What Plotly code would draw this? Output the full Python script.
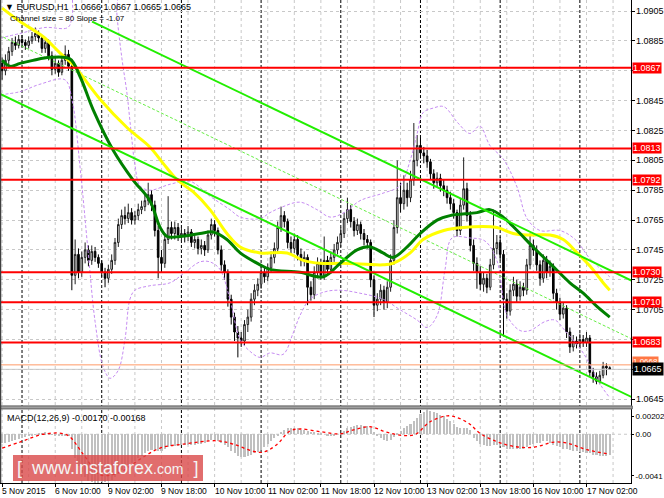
import plotly.graph_objects as go

# EURUSD H1, bars from 5 Nov 2015 18:00 to 17 Nov 2015 09:00 (x = bar number)
opens = [
    1.0870, 1.0865, 1.0872, 1.0878, 1.0884, 1.0882,
    1.0886, 1.0884, 1.0882, 1.0885, 1.0888, 1.0890, 1.0887, 1.0880, 1.0884, 1.0875, 1.0866, 1.0870,
    1.0864, 1.0872, 1.0876, 1.0868, 1.0728, 1.0742, 1.0730, 1.0740, 1.0745, 1.0738, 1.0744, 1.0740,
    1.0736, 1.0730, 1.0726, 1.0732, 1.0738, 1.0750, 1.0762, 1.0768, 1.0766, 1.0770, 1.0765, 1.0768,
    1.0772, 1.0774, 1.0778, 1.0782, 1.0775, 1.0758, 1.0740, 1.0736, 1.0752, 1.0760, 1.0756, 1.0760,
    1.0755, 1.0756, 1.0754, 1.0757, 1.0750, 1.0752, 1.0746, 1.0748, 1.0745, 1.0755, 1.0762, 1.0758,
    1.0745, 1.0735, 1.0730, 1.0712, 1.0700, 1.0690, 1.0686, 1.0684, 1.0695, 1.0700, 1.0712, 1.0718,
    1.0722, 1.0730, 1.0727, 1.0733, 1.0740, 1.0746, 1.0760, 1.0768, 1.0764, 1.0750, 1.0746, 1.0752,
    1.0742, 1.0738, 1.0740, 1.0720, 1.0715, 1.0730, 1.0736, 1.0728, 1.0738, 1.0732, 1.0740, 1.0745,
    1.0750, 1.0756, 1.0766, 1.0772, 1.0764, 1.0758, 1.0762, 1.0756, 1.0752, 1.0750, 1.0725, 1.0708,
    1.0712, 1.0718, 1.0710, 1.0720, 1.0738, 1.0760, 1.0780, 1.0776, 1.0785, 1.0780, 1.0792, 1.0805,
    1.0815, 1.0810, 1.0808, 1.0804, 1.0796, 1.0790, 1.0793, 1.0788, 1.0785, 1.0780, 1.0776, 1.0770,
    1.0758, 1.0775, 1.0786, 1.0768, 1.0748, 1.0736, 1.0730, 1.0722, 1.0726, 1.0720, 1.0735, 1.0746,
    1.0750, 1.0742, 1.0712, 1.0704, 1.0718, 1.0722, 1.0714, 1.0720, 1.0718, 1.0735, 1.0748, 1.0745,
    1.0735, 1.0726, 1.0738, 1.0730, 1.0734, 1.0716, 1.0710, 1.0702, 1.0706, 1.0690, 1.0680, 1.0684,
    1.0682, 1.0685, 1.0683, 1.0686, 1.0663, 1.0660, 1.0657, 1.0661, 1.0667, 1.0666,
]
highs = [
    1.0874, 1.0876, 1.0881, 1.0887, 1.0888, 1.0889,
    1.0889, 1.0886, 1.0888, 1.0891, 1.0894, 1.0892, 1.0889, 1.0887, 1.0886, 1.0878, 1.0874, 1.0872,
    1.0876, 1.0882, 1.0879, 1.0873, 1.0752, 1.0746, 1.0744, 1.0750, 1.0748, 1.0748, 1.0747, 1.0742,
    1.0738, 1.0733, 1.0735, 1.0742, 1.0753, 1.0766, 1.0772, 1.0774, 1.0776, 1.0773, 1.0771, 1.0776,
    1.0778, 1.0783, 1.0790, 1.0785, 1.0778, 1.0761, 1.0745, 1.0756, 1.0781, 1.0764, 1.0764, 1.0763,
    1.0760, 1.0759, 1.0761, 1.0759, 1.0756, 1.0754, 1.0752, 1.0751, 1.0758, 1.0766, 1.0765, 1.0760,
    1.0748, 1.0738, 1.0732, 1.0715, 1.0703, 1.0694, 1.0690, 1.0698, 1.0705, 1.0716, 1.0722, 1.0726,
    1.0734, 1.0733, 1.0736, 1.0744, 1.0750, 1.0764, 1.0774, 1.0771, 1.0766, 1.0754, 1.0756, 1.0755,
    1.0746, 1.0744, 1.0742, 1.0724, 1.0734, 1.0740, 1.0739, 1.0754, 1.0741, 1.0744, 1.0749, 1.0754,
    1.0760, 1.0770, 1.0780, 1.0775, 1.0767, 1.0766, 1.0764, 1.0759, 1.0755, 1.0752, 1.0728, 1.0716,
    1.0722, 1.0721, 1.0724, 1.0742, 1.0765, 1.0805, 1.0790, 1.0795, 1.0790, 1.0798, 1.0830, 1.0822,
    1.0820, 1.0814, 1.0812, 1.0806, 1.0799, 1.0797, 1.0796, 1.0792, 1.0788, 1.0784, 1.0779, 1.0772,
    1.0779, 1.0807, 1.0790, 1.0771, 1.0752, 1.0740, 1.0734, 1.0730, 1.0729, 1.0739, 1.0772, 1.0755,
    1.0754, 1.0745, 1.0716, 1.0722, 1.0727, 1.0725, 1.0724, 1.0723, 1.0739, 1.0756, 1.0752, 1.0748,
    1.0738, 1.0742, 1.0741, 1.0738, 1.0736, 1.0719, 1.0713, 1.0710, 1.0708, 1.0693, 1.0688, 1.0687,
    1.0689, 1.0688, 1.0690, 1.0688, 1.0666, 1.0663, 1.0664, 1.0670, 1.0669, 1.0667,
]
lows = [
    1.0859, 1.0862, 1.0869, 1.0875, 1.0879, 1.0880,
    1.0881, 1.0879, 1.0880, 1.0883, 1.0885, 1.0884, 1.0877, 1.0877, 1.0872, 1.0862, 1.0863, 1.0861,
    1.0862, 1.0869, 1.0865, 1.0718, 1.0722, 1.0726, 1.0727, 1.0736, 1.0734, 1.0735, 1.0737, 1.0733,
    1.0727, 1.0720, 1.0723, 1.0729, 1.0735, 1.0747, 1.0759, 1.0762, 1.0763, 1.0762, 1.0762, 1.0765,
    1.0769, 1.0771, 1.0775, 1.0771, 1.0754, 1.0726, 1.0730, 1.0733, 1.0749, 1.0752, 1.0752, 1.0751,
    1.0751, 1.0750, 1.0751, 1.0747, 1.0746, 1.0742, 1.0742, 1.0741, 1.0743, 1.0752, 1.0754, 1.0742,
    1.0731, 1.0725, 1.0707, 1.0695, 1.0684, 1.0673, 1.0680, 1.0681, 1.0690, 1.0697, 1.0708, 1.0714,
    1.0719, 1.0723, 1.0724, 1.0730, 1.0736, 1.0743, 1.0757, 1.0760, 1.0746, 1.0742, 1.0743, 1.0738,
    1.0734, 1.0734, 1.0708, 1.0711, 1.0712, 1.0726, 1.0725, 1.0725, 1.0728, 1.0729, 1.0737, 1.0742,
    1.0747, 1.0753, 1.0763, 1.0760, 1.0754, 1.0755, 1.0752, 1.0748, 1.0746, 1.0720, 1.0700, 1.0704,
    1.0708, 1.0705, 1.0706, 1.0717, 1.0735, 1.0756, 1.0770, 1.0772, 1.0774, 1.0777, 1.0788, 1.0801,
    1.0806, 1.0803, 1.0800, 1.0792, 1.0786, 1.0787, 1.0784, 1.0781, 1.0776, 1.0772, 1.0766, 1.0754,
    1.0755, 1.0772, 1.0764, 1.0744, 1.0731, 1.0719, 1.0718, 1.0717, 1.0716, 1.0718, 1.0732, 1.0742,
    1.0738, 1.0687, 1.0699, 1.0701, 1.0714, 1.0710, 1.0711, 1.0714, 1.0715, 1.0732, 1.0741, 1.0731,
    1.0721, 1.0723, 1.0726, 1.0727, 1.0712, 1.0705, 1.0698, 1.0699, 1.0686, 1.0676, 1.0677, 1.0679,
    1.0679, 1.0680, 1.0680, 1.0660, 1.0656, 1.0655, 1.0655, 1.0659, 1.0661, 1.0665,
]
closes = [
    1.0865, 1.0872, 1.0878, 1.0884, 1.0882, 1.0886,
    1.0884, 1.0882, 1.0885, 1.0888, 1.0890, 1.0887, 1.0880, 1.0884, 1.0875, 1.0866, 1.0870, 1.0864,
    1.0872, 1.0876, 1.0868, 1.0728, 1.0742, 1.0730, 1.0740, 1.0745, 1.0738, 1.0744, 1.0740, 1.0736,
    1.0730, 1.0726, 1.0732, 1.0738, 1.0750, 1.0762, 1.0768, 1.0766, 1.0770, 1.0765, 1.0768, 1.0772,
    1.0774, 1.0778, 1.0782, 1.0775, 1.0758, 1.0740, 1.0736, 1.0752, 1.0760, 1.0756, 1.0760, 1.0755,
    1.0756, 1.0754, 1.0757, 1.0750, 1.0752, 1.0746, 1.0748, 1.0745, 1.0755, 1.0762, 1.0758, 1.0745,
    1.0735, 1.0730, 1.0712, 1.0700, 1.0690, 1.0686, 1.0684, 1.0695, 1.0700, 1.0712, 1.0718, 1.0722,
    1.0730, 1.0727, 1.0733, 1.0740, 1.0746, 1.0760, 1.0768, 1.0764, 1.0750, 1.0746, 1.0752, 1.0742,
    1.0738, 1.0740, 1.0720, 1.0715, 1.0730, 1.0736, 1.0728, 1.0738, 1.0732, 1.0740, 1.0745, 1.0750,
    1.0756, 1.0766, 1.0772, 1.0764, 1.0758, 1.0762, 1.0756, 1.0752, 1.0750, 1.0725, 1.0708, 1.0712,
    1.0718, 1.0710, 1.0720, 1.0738, 1.0760, 1.0780, 1.0776, 1.0785, 1.0780, 1.0792, 1.0805, 1.0815,
    1.0810, 1.0808, 1.0804, 1.0796, 1.0790, 1.0793, 1.0788, 1.0785, 1.0780, 1.0776, 1.0770, 1.0758,
    1.0775, 1.0786, 1.0768, 1.0748, 1.0736, 1.0730, 1.0722, 1.0726, 1.0720, 1.0735, 1.0746, 1.0750,
    1.0742, 1.0712, 1.0704, 1.0718, 1.0722, 1.0714, 1.0720, 1.0718, 1.0735, 1.0748, 1.0745, 1.0735,
    1.0726, 1.0738, 1.0730, 1.0734, 1.0716, 1.0710, 1.0702, 1.0706, 1.0690, 1.0680, 1.0684, 1.0682,
    1.0685, 1.0683, 1.0686, 1.0663, 1.0660, 1.0657, 1.0661, 1.0667, 1.0666, 1.0665,
]
bars = list(range(len(closes)))

# moving averages (at a few bars)
ma_slow_bars = [0, 5.4, 12.3, 17.4, 21.4, 29.5, 37.6, 44.5, 48.5, 52.7, 57.5, 62.6, 67.7, 71.7, 77.7,
                85.8, 90.7, 95.8, 102.7, 114.7, 117.7, 122.9, 126.8, 133.0, 138.8, 149.0, 153.9, 159.0,
                165.0, 169.0, 173.2, 177.1, 181.0, 183.0]
ma_slow = [1.0907, 1.0898, 1.0888, 1.0877, 1.0869, 1.0846, 1.0827, 1.0814, 1.0803, 1.0792, 1.0784,
           1.0772, 1.0756, 1.0747, 1.0743, 1.0743, 1.0738, 1.0736, 1.0736, 1.0735, 1.0736, 1.0743,
           1.0752, 1.0758, 1.0760, 1.0760, 1.0756, 1.0755, 1.0755, 1.0752, 1.0743, 1.0734, 1.0723, 1.0718]
ma_fast_bars = [0, 2.4, 5.4, 9.3, 14.4, 20.4, 23.5, 27.4, 33.4, 39.4, 44.5, 47.6, 49.7, 53.6, 59.6,
                63.5, 67.7, 71.7, 77.7, 80.7, 89.7, 96.7, 101.8, 106.9, 110.8, 114.7, 117.7, 122.0,
                125.9, 131.0, 134.9, 143.0, 146.9, 150.9, 155.1, 159.9, 165.0, 171.0, 175.0, 179.2, 183.0]
ma_fast = [1.0872, 1.0868, 1.0870, 1.0872, 1.0874, 1.0873, 1.0861, 1.0839, 1.0812, 1.0792, 1.0778,
           1.0760, 1.0754, 1.0754, 1.0756, 1.0757, 1.0752, 1.0743, 1.0735, 1.0732, 1.0730, 1.0727,
           1.0736, 1.0745, 1.0747, 1.0743, 1.0740, 1.0747, 1.0756, 1.0765, 1.0768, 1.0770, 1.0772,
           1.0767, 1.0758, 1.0747, 1.0736, 1.0723, 1.0716, 1.0707, 1.0700]

# bands (violet dashed)
band_up_bars = [-0.6, 5.4, 12.9, 19.8, 21.1, 22.3, 34.0, 34.6, 36.1, 37.6, 38.8, 40.0, 41.5, 44.5, 50.6,
                56.6, 62.6, 68.6, 71.7, 77.7, 80.7, 84.6, 89.7, 94.8, 98.8, 103.0, 107.8, 114.7, 119.8,
                122.9, 125.0, 126.8, 129.8, 133.0, 137.3, 140.9, 143.9, 146.9, 150.9, 155.1, 158.1,
                162.0, 168.0, 172.6, 177.1, 183.0]
band_up = [1.0887, 1.0890, 1.0894, 1.0894, 1.0902, 1.0925, 1.0925, 1.0902, 1.0873, 1.0850, 1.0825,
           1.0802, 1.0788, 1.0785, 1.0789, 1.0791, 1.0781, 1.0772, 1.0767, 1.0766, 1.0770, 1.0774,
           1.0777, 1.0772, 1.0767, 1.0770, 1.0778, 1.0783, 1.0788, 1.0805, 1.0823, 1.0837, 1.0840,
           1.0841, 1.0830, 1.0823, 1.0828, 1.0815, 1.0806, 1.0787, 1.0766, 1.0758, 1.0758, 1.0752,
           1.0739, 1.0727]
band_dn_bars = [-0.6, 5.4, 11.4, 18.9, 21.1, 23.5, 25.9, 28.0, 30.4, 32.5, 34.9, 37.0, 38.5, 40.0, 44.5,
                50.6, 55.1, 59.6, 62.6, 65.6, 68.6, 71.7, 74.7, 77.7, 80.7, 84.6, 87.6, 89.7, 92.7,
                97.3, 101.8, 107.8, 114.7, 119.8, 125.0, 128.0, 131.0, 133.4, 135.5, 140.9, 145.4,
                149.0, 152.1, 156.0, 159.0, 163.5, 166.5, 169.5, 175.0, 180.1, 183.0]
band_dn = [1.0849, 1.0851, 1.0856, 1.0859, 1.0845, 1.0800, 1.0744, 1.0697, 1.0667, 1.0659, 1.0664,
           1.0685, 1.0712, 1.0718, 1.0721, 1.0723, 1.0730, 1.0737, 1.0737, 1.0732, 1.0712, 1.0685,
           1.0677, 1.0673, 1.0676, 1.0675, 1.0689, 1.0701, 1.0712, 1.0717, 1.0718, 1.0716, 1.0712,
           1.0705, 1.0698, 1.0693, 1.0701, 1.0732, 1.0753, 1.0753, 1.0751, 1.0738, 1.0701, 1.0691,
           1.0691, 1.0697, 1.0698, 1.0691, 1.0676, 1.0655, 1.0646]

# regression channel (Channel size = 80, Slope = -1.07)
chan_up_bars, chan_up = [27.1, 190], [1.0898, 1.0724]
chan_mid_bars, chan_mid = [-1, 190], [1.0889, 1.0685]
chan_dn_bars, chan_dn = [-1, 190], [1.0850, 1.0646]

levels = [1.0867, 1.0813, 1.0792, 1.0730, 1.0710, 1.0683]
ask_level, bid_level = 1.0668, 1.0665
price_ticks = [1.0645, 1.0665, 1.0685, 1.0705, 1.0725, 1.0745, 1.0765, 1.0785, 1.0805, 1.0825,
               1.0845, 1.0865, 1.0885, 1.0905]
price_labels_shown = [1.0645, 1.0705, 1.0725, 1.0745, 1.0765, 1.0785, 1.0805, 1.0825, 1.0845,
                      1.0885, 1.0905]

# MACD(12,26,9): histogram per bar and signal line
macd_hist = [
    -0.00075, -0.00070, -0.00062, -0.00055, -0.00048,
    -0.00040, -0.00032, -0.00025, -0.00018, -0.00010, -0.00004,
    0.00008, 0.00014, 0.00016, 0.00010,
    -0.00005, -0.00010, -0.00012, -0.00012, -0.00008, -0.00010,
    -0.0012, -0.0020, -0.0027, -0.0032, -0.0036, -0.0039, -0.0040, -0.0041, -0.0041, -0.0040,
    -0.0040, -0.0039, -0.0038, -0.0036, -0.0033, -0.0030, -0.0028, -0.0026, -0.0024, -0.0022,
    -0.0020, -0.0018, -0.0016, -0.0014, -0.0013, -0.0013, -0.0014, -0.0014,
    -0.0012, -0.0011, -0.0010, -0.0010, -0.0010, -0.0009, -0.0009, -0.0009, -0.0009, -0.0009, -0.0008, -0.0008,
    -0.0007, -0.0006, -0.0005, -0.0005, -0.0006, -0.0007, -0.0009, -0.0011, -0.0014,
    -0.0016, -0.0018, -0.0019, -0.0019, -0.0018,
    -0.0017, -0.0016, -0.0015, -0.0013, -0.0011,
    -0.0008, -0.0006, -0.0003, -0.0001,
    0.0002, 0.0004, 0.0005, 0.0005, 0.0005, 0.0005, 0.0004,
    0.0004, 0.0003, 0.0002, 0.0002, 0.0001, 0.0001,
    0.0000, -0.0001, -0.0001, -0.0001, 0.0000,
    0.0001, 0.0003, 0.0005, 0.0006, 0.0007, 0.0008, 0.0008, 0.0007, 0.0007, 0.0005, 0.0002,
    -0.0001, -0.0003, -0.0005, -0.0006, -0.0005, -0.0002,
    0.0001, 0.0003, 0.0005, 0.0007, 0.0009, 0.0011, 0.0014,
    0.0017, 0.0019, 0.00202, 0.0020, 0.0019,
    0.0018, 0.0016, 0.0015, 0.0013, 0.0011, 0.0009,
    0.0006, 0.0005, 0.0005, 0.0005, 0.0004,
    -0.0003, -0.0006, -0.0008, -0.0009, -0.0010, -0.0010, -0.0009, -0.0009,
    -0.0010, -0.0011, -0.0012, -0.0012, -0.0012, -0.0012, -0.0012, -0.0012, -0.0011,
    -0.0009, -0.0008, -0.0007, -0.0007, -0.0006, -0.0006, -0.0007, -0.0009,
    -0.0010, -0.0011, -0.0012, -0.0012, -0.0013, -0.0014,
    -0.0014, -0.0015, -0.0015, -0.0016, -0.0016, -0.0017, -0.0017, -0.0018, -0.0018, -0.0018, -0.0017,
]
signal_bars = [0, 5.4, 12.4, 19.5, 24.5, 29.5, 35.5, 41.5, 47.6, 54.6, 64.6, 69.6, 75.7, 78.7, 82.7,
               86.7, 89.7, 95.8, 101.8, 105.8, 110.8, 115.8, 120.8, 124.5, 128.9, 134.2, 137.2, 140.6,
               143.9, 148.9, 154.0, 160.0, 166.2, 170.3, 176.1, 183.0]
signal = [-0.00116, -0.00066, 0.0, -0.00006, -0.0017, -0.0034, -0.0032, -0.0021, -0.00116, -0.00083,
          -0.00055, -0.00083, -0.00144, -0.0015, -0.00088, 0.00028, 0.00044, 0.00022, 0.00003, 0.00036,
          0.00063, 0.00017, -0.00011, 0.0, 0.00105, 0.00155, 0.00138, 0.00091, 0.00008, -0.00061,
          -0.00102, -0.0011, -0.00066, -0.00075, -0.0013, -0.00168]
# MT4 writes the panel's max / min just inside its top and bottom edges
macd_scale_pos = [0.0015, 0.0, -0.0035]
macd_scale_text = ["0.00202", "0.00", "-0.0041"]

time_label_bars = [0, 16, 32, 48, 64, 80, 96, 112, 128, 144, 160, 176]
time_labels = ["5 Nov 2015", "6 Nov 10:00", "9 Nov 02:00", "9 Nov 18:00", "10 Nov 10:00",
               "11 Nov 02:00", "11 Nov 18:00", "12 Nov 10:00", "13 Nov 02:00", "13 Nov 18:00",
               "16 Nov 10:00", "17 Nov 02:00"]
day_start_bars = [6, 30, 54, 78, 102, 126, 150, 174]

XR = [-0.633, 189.4]
FONT = "Liberation Sans, Arial, sans-serif"

fig = go.Figure()

band_line = dict(color="#c68cf2", width=1, dash="3px,2px")
fig.add_trace(go.Scatter(x=band_up_bars, y=band_up, mode="lines", line=band_line, line_shape="spline"))
fig.add_trace(go.Scatter(x=band_dn_bars, y=band_dn, mode="lines", line=band_line, line_shape="spline"))
fig.add_trace(go.Scatter(x=chan_mid_bars, y=chan_mid, mode="lines",
                         line=dict(color="#66ee44", width=1, dash="3px,2px")))

fig.add_trace(go.Candlestick(
    x=bars, open=opens, high=highs, low=lows, close=closes, whiskerwidth=0,
    increasing=dict(line=dict(color="#202020", width=1), fillcolor="#f0f0f0"),
    decreasing=dict(line=dict(color="black", width=1), fillcolor="black"),
))

fig.add_trace(go.Scatter(x=ma_slow_bars, y=ma_slow, mode="lines", line_shape="spline",
                         line=dict(color="#ffff00", width=3)))
fig.add_trace(go.Scatter(x=ma_fast_bars, y=ma_fast, mode="lines", line_shape="spline",
                         line=dict(color="#008000", width=3)))
for bx, by in [(chan_up_bars, chan_up), (chan_dn_bars, chan_dn)]:
    fig.add_trace(go.Scatter(x=bx, y=by, mode="lines", line=dict(color="#22ee00", width=2)))

# MACD panel
fig.add_trace(go.Bar(x=bars, y=macd_hist, width=0.62, marker=dict(color="#c0c0c0", line_width=0),
                     xaxis="x2", yaxis="y2"))
fig.add_trace(go.Scatter(x=signal_bars, y=signal, mode="lines", line_shape="spline",
                         line=dict(color="#ff0000", width=1.3, dash="dot"), xaxis="x2", yaxis="y2"))

shapes = []
for b in range(0, 190, 8):
    shapes.append(dict(type="line", xref="x", yref="paper", x0=b, x1=b, y0=0, y1=1, layer="below",
                       line=dict(color="#c8c8c8", width=1, dash="3px,3px")))
for b in day_start_bars:
    shapes.append(dict(type="line", xref="x", yref="paper", x0=b, x1=b, y0=0, y1=1, layer="between",
                       line=dict(color="black", width=1, dash="3px,2px")))
for lv in levels:
    shapes.append(dict(type="line", xref="paper", yref="y", x0=0, x1=1, y0=lv, y1=lv, layer="above",
                       line=dict(color="#ff0000", width=2)))
shapes.append(dict(type="line", xref="paper", yref="y", x0=0, x1=1, y0=ask_level, y1=ask_level,
                   layer="above", line=dict(color="#ff9966", width=1)))
shapes.append(dict(type="line", xref="paper", yref="y", x0=0, x1=1, y0=bid_level, y1=bid_level,
                   layer="above", line=dict(color="#c8c8c8", width=1)))
# panel separator, left border, watermark box
shapes.append(dict(type="rect", xref="paper", yref="paper", x0=0, x1=1.002, y0=0.1534, y1=0.1596,
                   line=dict(color="#606060", width=1), fillcolor="#a0a0a0", layer="above"))
shapes.append(dict(type="line", xref="paper", yref="paper", x0=0.0008, x1=0.0008, y0=0, y1=1,
                   line=dict(color="#404040", width=1.5), layer="above"))
shapes.append(dict(type="rect", xref="paper", yref="paper", x0=0.0206, x1=0.3217, y0=0.004, y1=0.058,
                   line=dict(width=0), fillcolor="rgba(218,72,72,0.80)", layer="above"))

ann = []
ann.append(dict(text="▼ EURUSD,H1  1.0666 1.0667 1.0665 1.0665", xref="paper", yref="paper", x=0, y=1,
                xanchor="left", yanchor="top", xshift=3, yshift=0, showarrow=False,
                font=dict(size=9, color="black")))
ann.append(dict(text="Channel size = 80 Slope = -1.07", xref="paper", yref="paper", x=0, y=1,
                xanchor="left", yanchor="top", xshift=8, yshift=-12, showarrow=False,
                font=dict(size=8, color="black")))
ann.append(dict(text="MACD(12,26,9) -0.00170 -0.00168", xref="paper", yref="paper", x=0, y=0.1532,
                xanchor="left", yanchor="top", xshift=5, yshift=-2, showarrow=False,
                font=dict(size=9, color="black")))
for b, t in zip(time_label_bars, time_labels):
    ann.append(dict(text=t, xref="x2", yref="paper", x=b, y=0, xanchor="left", yanchor="top",
                    xshift=-2, yshift=-1, showarrow=False, font=dict(size=8.5, color="black")))
for p in price_labels_shown:
    ann.append(dict(text=f"{p:.4f}", xref="paper", yref="y", x=1, y=p, xanchor="left",
                    yanchor="middle", xshift=3, showarrow=False, font=dict(size=9, color="black")))
for lv in levels:
    ann.append(dict(text=f"{lv:.4f}", xref="paper", yref="y", x=1, y=lv, xanchor="left",
                    yanchor="middle", xshift=1, showarrow=False, bgcolor="#ff0000", borderpad=0,
                    font=dict(size=9, color="white")))
ann.append(dict(text=f"{ask_level:.4f}", xref="paper", yref="y", x=1, y=ask_level, xanchor="left",
                yanchor="middle", xshift=1, yshift=3, showarrow=False, bgcolor="#ff7744", borderpad=0,
                font=dict(size=8, color="white")))
ann.append(dict(text=f"{bid_level:.4f}", xref="paper", yref="y", x=1, y=bid_level, xanchor="left",
                yanchor="middle", xshift=1, showarrow=False, bgcolor="black", borderpad=1,
                font=dict(size=9, color="white")))
ann.append(dict(text="[  www.instaforex<span style='font-size:14px'>.com</span>  ]",
                xref="paper", yref="paper", x=0.171, y=0.031, xanchor="center", yanchor="middle",
                showarrow=False, font=dict(size=18, color="#f4f4f4", family="Liberation Sans")))

fig.update_layout(
    width=664, height=498,
    margin=dict(l=0, r=33, t=0, b=15),
    paper_bgcolor="white", plot_bgcolor="white",
    showlegend=False,
    font=dict(family=FONT, size=9, color="black"),
    shapes=shapes, annotations=ann,
    xaxis=dict(domain=[0, 1], range=XR, anchor="y", showgrid=False, zeroline=False,
               showticklabels=False, ticks="", rangeslider=dict(visible=False)),
    yaxis=dict(domain=[0.1596, 1], range=[1.06405, 1.091243], side="right", tickvals=price_ticks,
               showticklabels=False, ticks="outside", ticklen=3, tickcolor="black",
               showgrid=True, gridcolor="#c8c8c8", griddash="3px,3px", zeroline=False,
               showline=True, linecolor="black", linewidth=1),
    xaxis2=dict(domain=[0, 1], range=XR, anchor="y2", matches="x", showgrid=False, zeroline=False,
                tickvals=time_label_bars, ticks="outside", ticklen=3, tickcolor="black",
                showticklabels=False, showline=True, linecolor="black", linewidth=1),
    yaxis2=dict(domain=[0, 0.1534], range=[-0.0041, 0.00213], side="right",
                tickvals=macd_scale_pos, ticktext=macd_scale_text, showticklabels=True,
                ticks="outside", ticklen=2, tickcolor="black", ticklabelstandoff=0,
                tickfont=dict(size=8, color="black"),
                showgrid=False, zeroline=False, automargin=False,
                showline=True, linecolor="black", linewidth=1),
    bargap=0,
)
# dashed zero line of the MACD panel
fig.add_shape(type="line", xref="paper", yref="y2", x0=0, x1=1, y0=0, y1=0, layer="below",
              line=dict(color="#c8c8c8", width=1, dash="3px,3px"))

fig.write_html("out.html", config={"displayModeBar": False},
               post_script="document.body.style.margin='0';")
